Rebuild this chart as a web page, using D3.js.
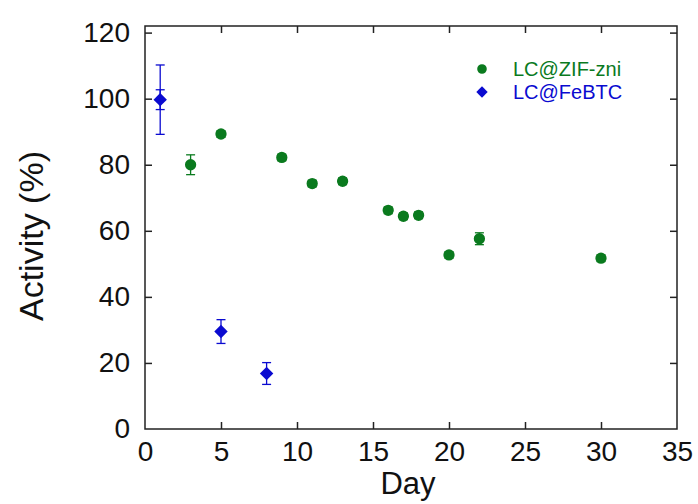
<!DOCTYPE html>
<html>
<head>
<meta charset="utf-8">
<script src="https://cdn.jsdelivr.net/npm/d3@7"></script>
<style>
  body { margin: 0; background: #fff; }
  text { font-family: "Liberation Sans", Arial, sans-serif; }
</style>
</head>
<body>
<svg width="698" height="504"></svg>
<script>
// green series: LC@ZIF-zni
const zifDays = [3, 5, 9, 11, 13, 16, 17, 18, 20, 22, 30];
const zifAct  = [80, 89.3, 82.2, 74.3, 75, 66.2, 64.4, 64.7, 52.7, 57.6, 51.7];
const zifErr  = [3, 1, 1, 1, 1, 1, 1, 1, 1, 1.8, 1];

// blue series: LC@FeBTC
const febDays = [1, 5, 8];
const febAct  = [99.7, 29.5, 16.8];
const febErr  = [10.5, 3.6, 3.3];
const febErrInner = [3, 0, 0];

const xTicks = [0, 5, 10, 15, 20, 25, 30, 35];
const yTicks = [0, 20, 40, 60, 80, 100, 120];
const legendNames = ["LC@ZIF-zni", "LC@FeBTC"];

const green = "#0a7a1e", blue = "#0a0ad0", axisCol = "#222";

const svg = d3.select("svg");
const L = 145, R = 677, T = 26, B = 429;

const x = d3.scaleLinear().domain([0, 35]).range([L, R]);
const y = d3.scaleLinear().domain([0, 122]).range([B, T]);

// frame
svg.append("rect")
  .attr("x", L).attr("y", T).attr("width", R - L).attr("height", B - T)
  .attr("fill", "none").attr("stroke", axisCol).attr("stroke-width", 1.5);

const tl = 7;
// bottom axis
const gx = svg.append("g").attr("transform", `translate(0,${B})`)
  .call(d3.axisBottom(x).tickValues(xTicks).tickSize(-tl).tickPadding(12).tickFormat(d3.format("d")));
// top axis
const gxt = svg.append("g").attr("transform", `translate(0,${T})`)
  .call(d3.axisTop(x).tickValues(xTicks).tickSize(-tl).tickFormat(""));
// left axis
const gy = svg.append("g").attr("transform", `translate(${L},0)`)
  .call(d3.axisLeft(y).tickValues(yTicks).tickSize(-tl).tickPadding(15).tickFormat(d3.format("d")));
// right axis
const gyr = svg.append("g").attr("transform", `translate(${R},0)`)
  .call(d3.axisRight(y).tickValues(yTicks).tickSize(-tl).tickFormat(""));

[gx, gxt, gy, gyr].forEach(g => {
  g.select(".domain").remove();
  g.selectAll(".tick line").attr("stroke", axisCol).attr("stroke-width", 1.5);
  g.selectAll(".tick text").attr("fill", "#111").attr("font-size", 28)
    .attr("font-family", "'Liberation Sans', Arial, sans-serif");
});
gx.selectAll(".tick line").filter(d => d === 0 || d === 35).remove();
gxt.selectAll(".tick line").filter(d => d === 0 || d === 35).remove();
gy.selectAll(".tick line").filter(d => d === 0).remove();
gyr.selectAll(".tick line").filter(d => d === 0).remove();

// axis titles
svg.append("text").attr("x", x(17.3)).attr("y", 494)
  .attr("text-anchor", "middle").attr("font-size", 31).attr("fill", "#111").text("Day");
svg.append("text").attr("transform", `translate(43,236) rotate(-90)`)
  .attr("text-anchor", "middle").attr("font-size", 34).attr("fill", "#111").text("Activity (%)");

// error bars
function errBars(days, vals, errs, color) {
  const g = svg.append("g").attr("stroke", color).attr("stroke-width", 1.3);
  days.forEach((d, i) => {
    if (!errs[i]) return;
    const cx = x(d), y1 = y(vals[i] + errs[i]), y2 = y(vals[i] - errs[i]);
    g.append("line").attr("x1", cx).attr("x2", cx).attr("y1", y1).attr("y2", y2);
    g.append("line").attr("x1", cx - 4.5).attr("x2", cx + 4.5).attr("y1", y1).attr("y2", y1);
    g.append("line").attr("x1", cx - 4.5).attr("x2", cx + 4.5).attr("y1", y2).attr("y2", y2);
  });
}
errBars(zifDays, zifAct, zifErr, green);
errBars(febDays, febAct, febErr, blue);
errBars(febDays, febAct, febErrInner, blue);

const circ = d3.symbol().type(d3.symbolCircle).size(100);
const diam = d3.symbol().type(d3.symbolSquare).size(90);

svg.append("g").selectAll("path").data(zifDays).join("path")
  .attr("d", circ).attr("fill", green)
  .attr("transform", (d, i) => `translate(${x(d)},${y(zifAct[i])})`);
svg.append("g").selectAll("path").data(febDays).join("path")
  .attr("d", diam).attr("fill", blue)
  .attr("transform", (d, i) => `translate(${x(d)},${y(febAct[i])}) rotate(45)`);

// legend
const leg = svg.append("g");
const legCols = [green, blue];
legendNames.forEach((n, i) => {
  const ly = 69 + i * 23;
  leg.append("path").attr("d", i === 0 ? circ : diam).attr("fill", legCols[i])
    .attr("transform", `translate(482,${ly})` + (i === 1 ? " rotate(45) scale(0.85)" : " scale(0.85)"));
  leg.append("text").attr("x", 513).attr("y", ly + 7).attr("font-size", 20)
    .attr("fill", legCols[i]).text(n);
});
</script>
</body>
</html>
